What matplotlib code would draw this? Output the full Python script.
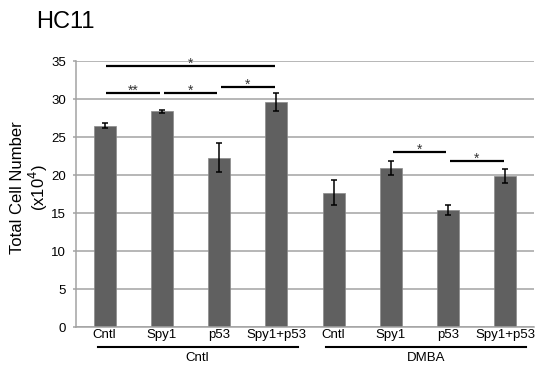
import matplotlib
matplotlib.use("Agg")
import matplotlib.pyplot as plt

plt.rcParams['font.family'] = ['Liberation Sans', 'DejaVu Sans']

categories = ["Cntl", "Spy1", "p53", "Spy1+p53", "Cntl", "Spy1", "p53", "Spy1+p53"]
values = [26.5, 28.4, 22.3, 29.6, 17.7, 20.9, 15.4, 19.9]
errors = [0.3, 0.2, 1.85, 1.15, 1.6, 0.95, 0.6, 0.95]
groups = ["Cntl", "DMBA"]
group_spans = [(-0.12, 3.37), (3.86, 7.36)]
# significance brackets: (start index, end index, height, label)
sig_pairs = [(0, 3, 34.4, "*"), (0, 1, 30.75, "**"), (1, 2, 30.75, "*"),
             (2, 3, 31.6, "*"), (5, 6, 23.0, "*"), (6, 7, 21.8, "*")]
yticks = [0, 5, 10, 15, 20, 25, 30, 35]

fig = plt.figure(figsize=(5.4, 3.7), dpi=100)
ax = fig.add_axes([0.1407, 0.1162, 0.989 - 0.1407, 0.835 - 0.1162])

x = list(range(len(values)))
ax.set_axisbelow(True)
ax.yaxis.grid(True, color="#a3a3a3", linewidth=1.1)
ax.bar(x, values, width=0.385, color="#606060", edgecolor="#8a8a8a", linewidth=0.5, zorder=2)
ax.errorbar(x, values, yerr=errors, fmt="none", ecolor="black", elinewidth=1.1,
            capsize=2.5, capthick=1.1, zorder=3)

ax.set_xlim(-0.5, 7.5)
ax.set_ylim(0, 35)
ax.set_yticks(yticks)
ax.set_yticklabels([str(t) for t in yticks], fontsize=9.5)
ax.set_xticks(x)
ax.set_xticklabels(categories, fontsize=9.5)
ax.tick_params(axis="x", length=0, pad=1.5)
ax.tick_params(axis="y", length=2, width=1.1, color="#a3a3a3", pad=5)

for s in ["top", "right"]:
    ax.spines[s].set_visible(False)
for s in ["left", "bottom"]:
    ax.spines[s].set_color("#a3a3a3")
    ax.spines[s].set_linewidth(1.1)

for i0, i1, h, lab in sig_pairs:
    ax.plot([i0 + 0.03, i1 - 0.03], [h, h], color="black", linewidth=1.6, zorder=4,
            solid_capstyle="butt")
    ax.text((i0 + i1) / 2, h - 0.25, lab, ha="center", va="baseline", fontsize=10,
            color="#333333", zorder=5)

for g, (a, b) in zip(groups, group_spans):
    ax.plot([a, b], [-0.075, -0.075], color="black", linewidth=1.5,
            transform=ax.get_xaxis_transform(), clip_on=False)
    ax.text((a + b) / 2, -0.117, g, ha="center", va="center", fontsize=9.5,
            transform=ax.get_xaxis_transform())

fig.text(36 / 540, 1 - 22 / 370, "HC11", ha="left", va="center", fontsize=17)
fig.text(30 / 540, 1 - 188 / 370, "Total Cell Number\n(x10$^{4}$)", rotation=90,
         ha="center", va="center", fontsize=12, linespacing=1.05)

fig.savefig("out.png", dpi=100)
